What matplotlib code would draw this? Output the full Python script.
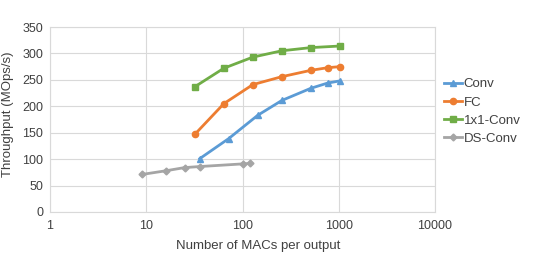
import matplotlib
matplotlib.use("Agg")
import matplotlib.pyplot as plt

plt.rcParams['font.family'] = ['Liberation Sans', 'DejaVu Sans']

conv_x = [36, 72, 144, 256, 512, 768, 1024]
conv_y = [101, 139, 183, 211, 234, 244, 248]
fc_x = [32, 64, 128, 256, 512, 768, 1024]
fc_y = [147, 205, 241, 256, 268, 273, 275]
c1x1_x = [32, 64, 128, 256, 512, 1024]
c1x1_y = [237, 272, 293, 305, 311, 314]
ds_x = [9, 16, 25, 36, 100, 121]
ds_y = [71, 78, 84, 86, 91, 92]

series = [
    ("Conv", conv_x, conv_y, "#5B9BD5", "^"),
    ("FC", fc_x, fc_y, "#ED7D31", "o"),
    ("1x1-Conv", c1x1_x, c1x1_y, "#70AD47", "s"),
    ("DS-Conv", ds_x, ds_y, "#A5A5A5", "D"),
]

xticks = [1, 10, 100, 1000, 10000]
yticks = [0, 50, 100, 150, 200, 250, 300, 350]

fig = plt.figure(figsize=(5.38, 2.76), dpi=100)
ax = fig.add_axes([50/538, 1-212/276, (435-50)/538, (212-27)/276])

for name, x, y, c, m in series:
    ms = 4.5 if m != "D" else 3.5
    ax.plot(x, y, color=c, marker=m, markersize=ms, linewidth=2, label=name)

ax.set_xscale('log')
ax.set_xlim(1, 10000)
ax.set_ylim(0, 350)
ax.set_xticks(xticks)
ax.set_xticklabels([str(t) for t in xticks])
ax.minorticks_off()
ax.set_yticks(yticks)
ax.tick_params(length=0, labelsize=9, colors='#404040', pad=5)
ax.tick_params(axis='x', pad=6)
ax.grid(True, color='#D9D9D9', linewidth=0.8)
ax.set_axisbelow(True)
for s in ax.spines.values():
    s.set_color('#D9D9D9')
    s.set_linewidth(0.8)

fig.text(258/538, 1-246/276, "Number of MACs per output", ha='center', va='center', fontsize=9.5, color='#404040')
fig.text(8/538, 1-114/276, "Throughput (MOps/s)", ha='center', va='center', rotation=90, fontsize=9.5, color='#404040')

leg = fig.legend(loc='center left', bbox_to_anchor=(444/538, 1-111.5/276), frameon=False,
                 fontsize=9.5, handlelength=1.4, handletextpad=0.1, labelspacing=0.45,
                 borderaxespad=0, borderpad=0)
for t in leg.get_texts():
    t.set_color('#404040')

fig.savefig("out.png", dpi=100)
